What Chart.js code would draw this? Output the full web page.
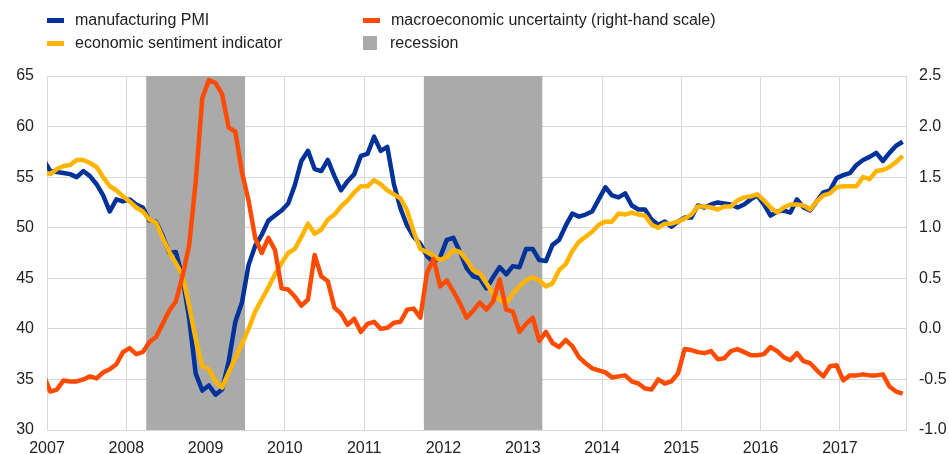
<!DOCTYPE html>
<html>
<head>
<meta charset="utf-8">
<script src="https://cdn.jsdelivr.net/npm/chart.js@4.4.0/dist/chart.umd.min.js"></script>
<style>
  body { margin: 0; background: #fff; }
  #wrap { position: relative; width: 949px; height: 454px; font-family: "Liberation Sans", Arial, sans-serif; }
  .item { position: absolute; display: flex; align-items: center; height: 18px; font-size: 16px; color: #222; white-space: nowrap; }
  .mark { display: inline-block; width: 17px; height: 5px; margin-right: 11px; }
  .box { display: inline-block; width: 14px; height: 14px; margin-right: 13px; }
</style>
</head>
<body>
<div id="wrap">
  <canvas id="chart" width="949" height="454"></canvas>
  <div class="item" style="left:47px; top:11px"><span class="mark" style="background:#003299"></span>manufacturing PMI</div>
  <div class="item" style="left:47px; top:34px"><span class="mark" style="background:#ffb400"></span>economic sentiment indicator</div>
  <div class="item" style="left:363px; top:11px"><span class="mark" style="background:#ff4b00"></span>macroeconomic uncertainty (right-hand scale)</div>
  <div class="item" style="left:363px; top:34px"><span class="box" style="background:#aaaaaa"></span>recession</div>
</div>
<script>
// monthly data, Dec 2006 - Oct 2017
const firstMonth = '2006-12';
const yearTicks = ['2007', '2008', '2009', '2010', '2011', '2012', '2013', '2014', '2015', '2016', '2017'];

const pmi = [
  56.7,
  55.6, 55.5, 55.4, 55.3, 55.0, 55.6, 55.1, 54.3, 53.2, 51.6, 52.8, 52.6,
  52.8, 52.3, 52.0, 50.7, 50.6, 49.2, 47.5, 47.6, 45.1, 41.1, 35.6, 33.9,
  34.4, 33.5, 34.0, 36.8, 40.7, 42.6, 46.3, 48.2, 49.3, 50.7, 51.2, 51.7,
  52.4, 54.2, 56.6, 57.6, 55.8, 55.6, 56.7, 55.1, 53.7, 54.6, 55.3, 57.1,
  57.3, 59.0, 57.6, 58.0, 54.3, 51.9, 50.2, 49.1, 48.4, 47.2, 46.6, 47.1,
  48.8, 49.0, 47.6, 46.0, 45.2, 45.0, 44.0, 45.1, 46.1, 45.4, 46.2, 46.1,
  47.9, 47.9, 46.8, 46.7, 48.3, 48.8, 50.2, 51.4, 51.1, 51.3, 51.6, 52.8,
  54.0, 53.2, 53.0, 53.4, 52.2, 51.8, 51.8, 50.8, 50.3, 50.6, 50.1, 50.6,
  51.0, 51.0, 52.2, 52.0, 52.3, 52.5, 52.4, 52.3, 52.0, 52.3, 52.8, 53.2,
  52.3, 51.2, 51.6, 51.7, 51.5, 52.8, 52.0, 51.7, 52.6, 53.5, 53.7, 54.9,
  55.2, 55.4, 56.2, 56.7, 57.0, 57.4, 56.6, 57.4, 58.1, 58.5
];

const sentiment = [
  55.5,
  55.3, 55.8, 56.1, 56.2, 56.7, 56.7, 56.4, 56.0, 55.0, 54.1, 53.7, 53.1,
  52.6, 52.0, 51.6, 50.8, 50.5, 49.0, 47.6, 46.5, 45.3, 42.3, 39.0, 36.3,
  36.0, 34.8, 34.2, 35.7, 37.1, 38.5, 40.0, 41.7, 42.9, 44.1, 45.4, 46.5,
  47.5, 47.9, 49.1, 50.4, 49.4, 49.8, 50.8, 51.3, 52.1, 52.7, 53.5, 54.1,
  54.1, 54.7, 54.3, 53.7, 53.3, 52.9, 51.7, 49.6, 47.9, 47.6, 47.2, 46.8,
  47.1, 47.8, 47.6, 46.8, 45.8, 45.5, 44.5, 43.5, 42.9, 42.5, 43.5, 44.2,
  44.8, 45.1, 44.8, 44.2, 44.5, 45.8, 46.4, 47.7, 48.6, 49.1, 49.6, 50.3,
  50.6, 50.6, 51.4, 51.3, 51.5, 51.3, 51.2, 50.3, 50.0, 50.4, 50.4, 50.6,
  50.9, 51.3, 52.1, 52.1, 52.0, 51.8, 52.1, 52.1, 52.7, 53.0, 53.1, 53.3,
  52.7, 52.0, 51.5, 52.0, 52.3, 52.3, 52.2, 51.8, 52.6, 53.2, 53.4, 54.0,
  54.1, 54.1, 54.1, 55.0, 54.8, 55.6, 55.7, 56.0, 56.5, 57.1
];

// right-hand scale
const uncertainty = [
  -0.46,
  -0.62, -0.60, -0.51, -0.52, -0.52, -0.50, -0.47, -0.49, -0.43, -0.40, -0.35, -0.23,
  -0.19, -0.25, -0.23, -0.13, -0.08, 0.05, 0.18, 0.27, 0.52, 0.82, 1.45, 2.28,
  2.46, 2.43, 2.32, 1.99, 1.95, 1.55, 1.27, 0.90, 0.75, 0.90, 0.78, 0.40,
  0.39, 0.32, 0.23, 0.29, 0.73, 0.52, 0.47, 0.21, 0.15, 0.04, 0.10, -0.03,
  0.05, 0.07, 0.00, 0.01, 0.06, 0.07, 0.19, 0.20, 0.11, 0.55, 0.69, 0.42,
  0.48, 0.37, 0.25, 0.11, 0.18, 0.26, 0.19, 0.27, 0.49, 0.19, 0.17, -0.03,
  0.05, 0.11, -0.12, -0.03, -0.14, -0.18, -0.11, -0.17, -0.28, -0.34, -0.39, -0.41,
  -0.43, -0.48, -0.47, -0.46, -0.52, -0.54, -0.59, -0.60, -0.50, -0.54, -0.52, -0.44,
  -0.20, -0.21, -0.23, -0.24, -0.22, -0.30, -0.29, -0.22, -0.20, -0.23, -0.26, -0.26,
  -0.25, -0.18, -0.22, -0.28, -0.31, -0.24, -0.32, -0.34, -0.41, -0.47, -0.37, -0.36,
  -0.51, -0.46, -0.46, -0.45, -0.46, -0.46, -0.45, -0.57, -0.62, -0.64
];

// recession periods (first and last month)
const recessionStart = ['2008-04', '2011-10'];
const recessionEnd = ['2009-06', '2013-03'];

// months since Jan 2007
function monthPos(s) {
  const p = s.split('-');
  return (Number(p[0]) - 2007) * 12 + Number(p[1]) - 1;
}

const start = monthPos(firstMonth);
// points sit in the middle of their month
const toPoints = arr => arr.map((v, i) => ({ x: start + i + 0.5, y: v }));

const lineStyle = {
  type: 'line',
  borderWidth: 4.5,
  pointRadius: 0,
  tension: 0,
  borderJoinStyle: 'round',
  fill: false,
  clip: 0
};

const recessionSets = recessionStart.map((s, k) => ({
  type: 'line',
  data: [{ x: monthPos(s), y: 1 }, { x: monthPos(recessionEnd[k]) + 1, y: 1 }],
  yAxisID: 'yr',
  backgroundColor: '#aaaaaa',
  borderWidth: 0,
  pointRadius: 0,
  fill: 'origin',
  order: 10
}));

Chart.defaults.font.family = '"Liberation Sans", Arial, sans-serif';
Chart.defaults.font.size = 16;
Chart.defaults.color = '#222';

new Chart(document.getElementById('chart'), {
  type: 'line',
  data: {
    datasets: [
      Object.assign({}, lineStyle, { label: 'macroeconomic uncertainty (right-hand scale)', data: toPoints(uncertainty), borderColor: '#ff4b00', yAxisID: 'y1', order: 1 }),
      Object.assign({}, lineStyle, { label: 'economic sentiment indicator', data: toPoints(sentiment), borderColor: '#ffb400', yAxisID: 'y', order: 2 }),
      Object.assign({}, lineStyle, { label: 'manufacturing PMI', data: toPoints(pmi), borderColor: '#003299', yAxisID: 'y', order: 3 })
    ].concat(recessionSets)
  },
  options: {
    responsive: false,
    animation: false,
    layout: { padding: { top: 76 } },
    plugins: {
      legend: { display: false },
      tooltip: { enabled: false }
    },
    scales: {
      x: {
        type: 'linear',
        min: 0,
        max: 130,
        afterBuildTicks: axis => { axis.ticks = yearTicks.map((t, k) => ({ value: k * 12 })); },
        afterFit: axis => { axis.height = 24; },
        grid: { color: '#d9d9d9', drawTicks: false },
        border: { color: '#d9d9d9' },
        ticks: {
          padding: 9,
          maxRotation: 0,
          autoSkip: false,
          callback: v => yearTicks[Math.round(v / 12)]
        }
      },
      y: {
        position: 'left',
        min: 30,
        max: 65,
        afterFit: axis => { axis.width = 47; },
        grid: { color: '#d9d9d9', drawTicks: false },
        border: { color: '#d9d9d9' },
        ticks: { stepSize: 5, padding: 13 }
      },
      y1: {
        position: 'right',
        min: -1,
        max: 2.5,
        afterFit: axis => { axis.width = 43; },
        grid: { drawOnChartArea: false, drawTicks: false },
        border: { color: '#d9d9d9' },
        ticks: { stepSize: 0.5, padding: 13, callback: v => v.toFixed(1) }
      },
      yr: { display: false, min: 0, max: 1 }
    }
  }
});
</script>
</body>
</html>
